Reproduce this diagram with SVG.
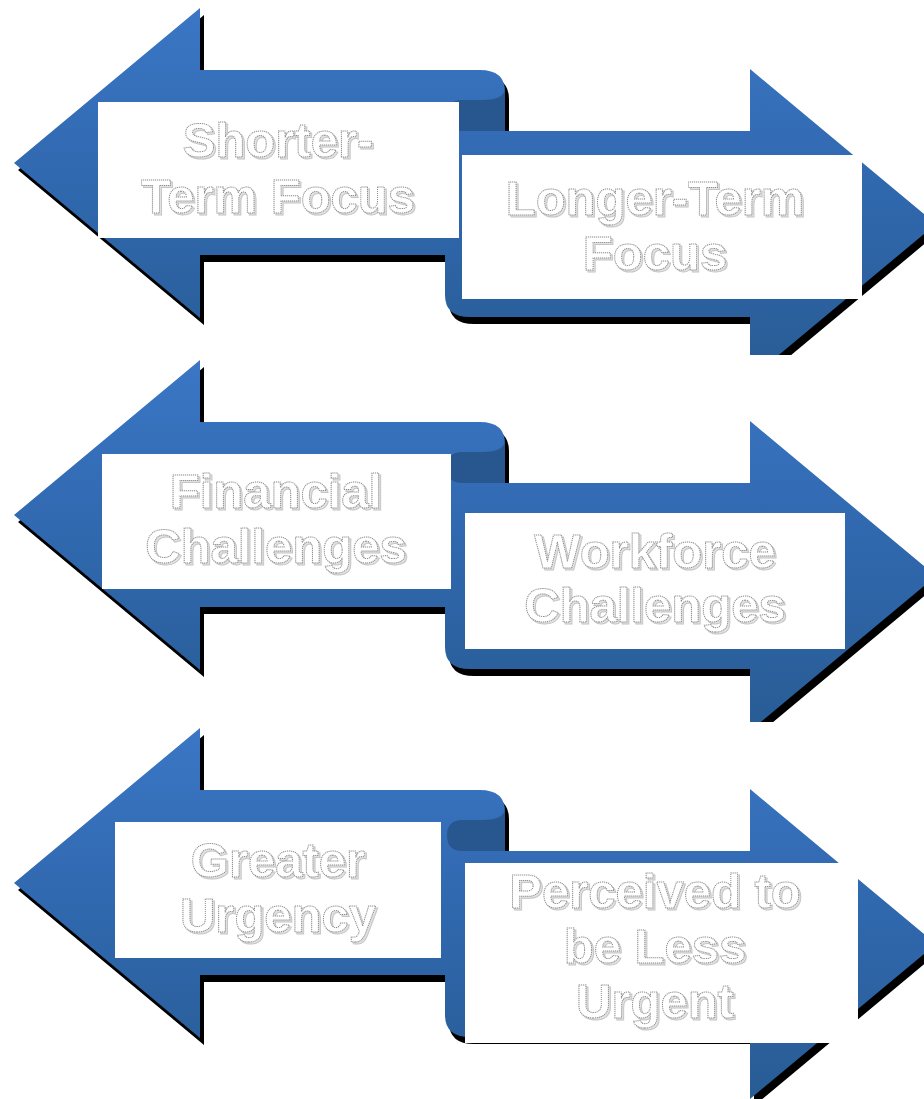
<svg xmlns="http://www.w3.org/2000/svg" width="924" height="1099" viewBox="0 0 924 1099">
<style>
.arrow{fill:url(#blue)}
.shadow{fill:#000}
.curl{fill:#28578f}
.box{fill:#fff}
.lbl{font-family:"Liberation Sans",Arial,sans-serif;font-weight:700;font-size:49px;text-anchor:middle}
.tsh{fill:#e2e2e2;stroke:#c6c6c6;stroke-width:1}
.tfg{fill:#fff;stroke:#8e8e8e;stroke-width:1;stroke-dasharray:1.2 0.8}
</style>
<defs>
<linearGradient id="blue" gradientUnits="userSpaceOnUse" x1="0" y1="0" x2="0" y2="380">
<stop offset="0" stop-color="#3b77c6"/>
<stop offset="0.5" stop-color="#3068ae"/>
<stop offset="1" stop-color="#285c94"/>
</linearGradient>
<path id="leftA" d="M14,163 L200,8 L200,70 L480,70 Q505,70 505,92 L505,131 L445,131 L445,255 L200,255 L200,318 Z"/>
<path id="rightA" d="M445,131 L750,131 L750,69 L936,224 L750,379 L750,317 L470,317 Q445,317 445,295 Z"/>
<path id="curlP" d="M505,88 Q505,100 482,100 L462,100 Q447,100 447,115.5 Q447,131 462,131 L505,131 Z"/>
<clipPath id="clipTop"><rect x="0" y="0" width="924" height="355"/></clipPath>
<clipPath id="clipMid"><rect x="0" y="0" width="924" height="370"/></clipPath>
</defs>
<rect width="924" height="1099" fill="#fff"/>

<g id="arrows">
<g id="arrows-1">
<use href="#leftA" class="shadow" transform="translate(4,7)"/>
<g clip-path="url(#clipTop)">
<use href="#rightA" class="shadow" transform="translate(4,7)"/>
<use href="#rightA" class="arrow"/>
</g>
<use href="#leftA" class="arrow"/>
<use href="#curlP" class="curl"/>
</g>
<g id="arrows-2" transform="translate(0,352)">
<use href="#leftA" class="shadow" transform="translate(4,7)"/>
<g clip-path="url(#clipMid)">
<use href="#rightA" class="shadow" transform="translate(4,7)"/>
<use href="#rightA" class="arrow"/>
</g>
<use href="#leftA" class="arrow"/>
<use href="#curlP" class="curl"/>
</g>
<g id="arrows-3" transform="translate(0,720)">
<use href="#leftA" class="shadow" transform="translate(4,7)"/>
<use href="#rightA" class="shadow" transform="translate(4,7)"/>
<use href="#rightA" class="arrow"/>
<use href="#leftA" class="arrow"/>
<use href="#curlP" class="curl"/>
</g>
</g>

<g id="node-shorter">
<rect class="box" x="98" y="102" width="361" height="136"/>
<text class="lbl tsh" transform="translate(2,2)"><tspan x="278" y="157">Shorter-</tspan><tspan x="278" y="213">Term Focus</tspan></text>
<text class="lbl tfg"><tspan x="278" y="157">Shorter-</tspan><tspan x="278" y="213">Term Focus</tspan></text>
</g>
<g id="node-longer">
<rect class="box" x="462" y="155" width="400" height="144"/>
<text class="lbl tsh" transform="translate(2,2)"><tspan x="655" y="215">Longer-Term</tspan><tspan x="655" y="270">Focus</tspan></text>
<text class="lbl tfg"><tspan x="655" y="215">Longer-Term</tspan><tspan x="655" y="270">Focus</tspan></text>
</g>
<g id="node-financial">
<rect class="box" x="102" y="454" width="349" height="135"/>
<text class="lbl tsh" transform="translate(2,2)"><tspan x="276" y="508">Financial</tspan><tspan x="276" y="563">Challenges</tspan></text>
<text class="lbl tfg"><tspan x="276" y="508">Financial</tspan><tspan x="276" y="563">Challenges</tspan></text>
</g>
<g id="node-workforce">
<rect class="box" x="465" y="513" width="380" height="136"/>
<text class="lbl tsh" transform="translate(2,2)"><tspan x="655" y="568">Workforce</tspan><tspan x="655" y="622">Challenges</tspan></text>
<text class="lbl tfg"><tspan x="655" y="568">Workforce</tspan><tspan x="655" y="622">Challenges</tspan></text>
</g>
<g id="node-greater">
<rect class="box" x="115" y="822" width="326" height="136"/>
<text class="lbl tsh" transform="translate(2,2)"><tspan x="278" y="877">Greater</tspan><tspan x="278" y="932">Urgency</tspan></text>
<text class="lbl tfg"><tspan x="278" y="877">Greater</tspan><tspan x="278" y="932">Urgency</tspan></text>
</g>
<g id="node-perceived">
<rect class="box" x="465" y="863" width="393" height="180"/>
<text class="lbl tsh" transform="translate(2,2)"><tspan x="655" y="908">Perceived to</tspan><tspan x="655" y="963">be Less</tspan><tspan x="655" y="1018">Urgent</tspan></text>
<text class="lbl tfg"><tspan x="655" y="908">Perceived to</tspan><tspan x="655" y="963">be Less</tspan><tspan x="655" y="1018">Urgent</tspan></text>
</g>
</svg>
